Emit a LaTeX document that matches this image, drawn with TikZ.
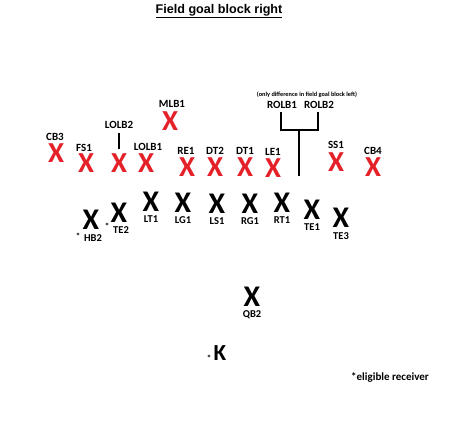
\documentclass[tikz,border=0pt]{standalone}
\usepackage{fontspec}
\setmainfont{Carlito}
\newfontfamily\arialfont{Liberation Sans}
\definecolor{xred}{RGB}{228,32,40}
\begin{document}
\begin{tikzpicture}[x=1pt,y=-1pt,
  every node/.style={inner sep=0pt,outer sep=0pt},
  redx/.style={text=xred,font=\fontsize{29}{29}\selectfont\bfseries},
  blkx/.style={text=black,font=\fontsize{30}{30}\selectfont\bfseries},
  poslbl/.style={font=\fontsize{11}{11}\selectfont\bfseries},
  opos/.style={font=\fontsize{10.5}{10.5}\selectfont\bfseries},
  starlbl/.style={font=\fontsize{9}{9}\selectfont\bfseries},
  bline/.style={line width=2pt}]
\useasboundingbox[fill=white] (0,0) rectangle (474,442);
% title
\node (title) at (219,11) {\arialfont\fontsize{12.6}{12.6}\selectfont\bfseries\underline{Field goal block right}};
% defense
\node[redx] (cb3) at (56,153) {X};   \node[poslbl] (cb3l) at (55,137) {CB3};
\node[redx] (fs1) at (86,163) {X};   \node[poslbl] (fs1l) at (84,148) {FS1};
\node[redx] (lolb2) at (119,163) {X};\node[poslbl] (lolb2l) at (119,125) {LOLB2};
\node[redx] (lolb1) at (146,163) {X};\node[poslbl] (lolb1l) at (148,147) {LOLB1};
\node[redx] (mlb1) at (170,121) {X}; \node[poslbl] (mlb1l) at (172,104) {MLB1};
\node[redx] (re1) at (187,167) {X};  \node[poslbl] (re1l) at (186,151) {RE1};
\node[redx] (dt2) at (215,167) {X};  \node[poslbl] (dt2l) at (215,151) {DT2};
\node[redx] (dt1) at (245,167) {X};  \node[poslbl] (dt1l) at (245,151) {DT1};
\node[redx] (le1) at (273,168) {X};  \node[poslbl] (le1l) at (273,152) {LE1};
\node[redx] (ss1) at (336,162) {X};  \node[poslbl] (ss1l) at (336,145) {SS1};
\node[redx] (cb4) at (373,167) {X};  \node[poslbl] (cb4l) at (373,151) {CB4};
% LOLB2 marker line
\coordinate (l2top) at (119,133);
\coordinate (l2bot) at (119,149);
\draw[bline] (l2top) -- (l2bot);
% ROLB bracket
\node[font=\fontsize{6.3}{6.3}\selectfont\bfseries] (note) at (307,95) {(only difference in field goal block left)};
\node[poslbl] (rolb1) at (282,105) {ROLB1};
\node[poslbl] (rolb2) at (319,105) {ROLB2};
\coordinate (bl) at (281,112);
\coordinate (br) at (318,112);
\coordinate (bm) at (299,130);
\coordinate (bs) at (299,176);
\draw[bline] (bl) |- (bm) -| (br);
\draw[bline] (bm) -- (bs);
% offense
\node[blkx] (hb2) at (91,220) {X};  \node[opos] (hb2l) at (93,238) {HB2};  \node[starlbl] (hb2s) at (78,236) {*};
\node[blkx] (te2) at (119,213) {X}; \node[opos] (te2l) at (121,230) {TE2};  \node[starlbl] (te2s) at (107,226) {*};
\node[blkx] (lt1) at (151,202) {X}; \node[opos] (lt1l) at (151,219) {LT1};
\node[blkx] (lg1) at (183,203) {X}; \node[opos] (lg1l) at (183,220) {LG1};
\node[blkx] (ls1) at (217,204) {X}; \node[opos] (ls1l) at (217,221.5) {LS1};
\node[blkx] (rg1) at (250,204) {X}; \node[opos] (rg1l) at (250,221.5) {RG1};
\node[blkx] (rt1) at (282,203) {X}; \node[opos] (rt1l) at (282,220.5) {RT1};
\node[blkx] (te1) at (312,210) {X}; \node[opos] (te1l) at (312,227) {TE1};
\node[blkx] (te3) at (341,218) {X}; \node[opos] (te3l) at (341,236) {TE3};
\node[blkx] (qb2) at (252,297) {X}; \node[opos] (qb2l) at (252,315) {QB2};
\node[font=\fontsize{23}{23}\selectfont\bfseries] (k) at (220,353) {K};
\node[starlbl] (ks) at (209,358) {*};
\node[poslbl] (elig) at (390,377) {*eligible receiver};
\end{tikzpicture}
\end{document}
